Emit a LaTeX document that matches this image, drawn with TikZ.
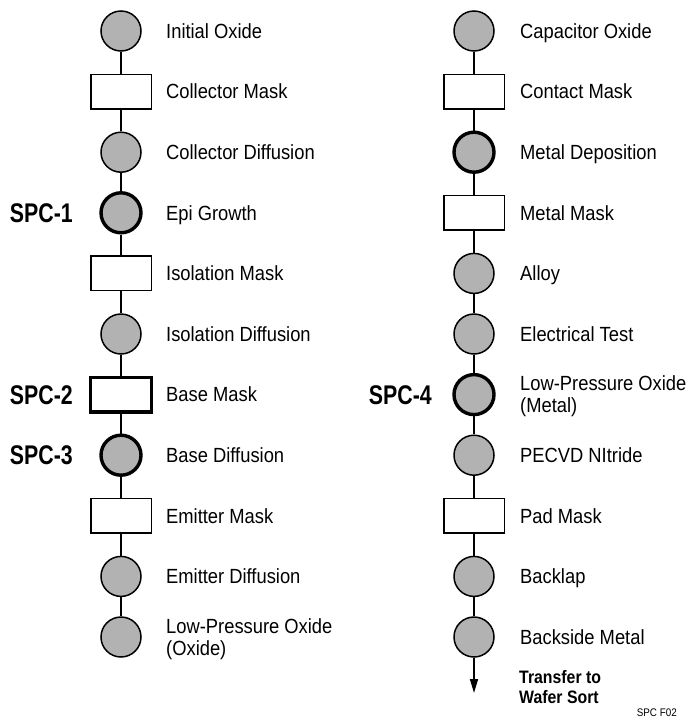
\documentclass[tikz,border=0pt]{standalone}
\usepackage{fontspec}
\setmainfont{Liberation Sans}[FakeStretch=0.895]
\newfontfamily\condfont{Liberation Sans}[FakeStretch=0.79]
\newfontfamily\xferfont{Liberation Sans}[FakeStretch=0.88]
\usetikzlibrary{arrows.meta}
\definecolor{procgray}{gray}{0.70}

\begin{document}
\begin{tikzpicture}[x=1pt,y=-1pt,
  proc/.style={circle, draw, line width=1.5pt, fill=procgray, minimum size=40pt, inner sep=0pt},
  mask/.style={rectangle, draw, line width=1.5pt, fill=white, minimum width=60.5pt, minimum height=34.5pt, inner sep=0pt},
  spcstep/.style={line width=3.4pt},
  lbl/.style={anchor=base west, inner sep=0pt, align=left, font=\fontsize{20.5}{22}\selectfont},
  spclbl/.style={anchor=base east, inner sep=0pt, font=\condfont\bfseries\fontsize{27}{28}\selectfont},
  xferlbl/.style={anchor=base west, inner sep=0pt, align=left, font=\xferfont\bfseries\fontsize{18}{20}\selectfont},
  link/.style={line width=1.6pt}
]
\useasboundingbox (0,0) rectangle (692,726);

% ---- left column: front-end steps ----
\node[proc]          (L0)  at (121, 31.0)  {};
\node[mask]          (L1)  at (121, 91.6)  {};
\node[proc]          (L2)  at (121,152.2)  {};
\node[proc,spcstep]  (L3)  at (121,212.8)  {};
\node[mask]          (L4)  at (121,273.4)  {};
\node[proc]          (L5)  at (121,334.0)  {};
\node[mask,spcstep]  (L6)  at (121,394.6)  {};
\node[proc,spcstep]  (L7)  at (121,455.2)  {};
\node[mask]          (L8)  at (121,515.8)  {};
\node[proc]          (L9)  at (121,576.4)  {};
\node[proc]          (L10) at (121,637.0)  {};

\foreach \a/\b in {L0/L1,L1/L2,L2/L3,L3/L4,L4/L5,L5/L6,L6/L7,L7/L8,L8/L9,L9/L10}
  \draw[link] (\a) -- (\b);

\node[lbl] (tL0)  at (166, 38.3)  {Initial Oxide};
\node[lbl] (tL1)  at (166, 98.9)  {Collector Mask};
\node[lbl] (tL2)  at (166,159.5)  {Collector Diffusion};
\node[lbl] (tL3)  at (166,220.1)  {Epi Growth};
\node[lbl] (tL4)  at (166,280.7)  {Isolation Mask};
\node[lbl] (tL5)  at (166,341.3)  {Isolation Diffusion};
\node[lbl] (tL6)  at (166,401.9)  {Base Mask};
\node[lbl] (tL7)  at (166,462.5)  {Base Diffusion};
\node[lbl] (tL8)  at (166,523.1)  {Emitter Mask};
\node[lbl] (tL9)  at (166,583.7)  {Emitter Diffusion};
\node[lbl] (tL10) at (166,655.0)  {Low-Pressure Oxide\\(Oxide)};

\node[spclbl] (s1) at (73,222.5) {SPC-1};
\node[spclbl] (s2) at (73,404.3) {SPC-2};
\node[spclbl] (s3) at (73,464.9) {SPC-3};

% ---- right column: back-end steps ----
\node[proc]          (R0)  at (474, 31.0)  {};
\node[mask]          (R1)  at (474, 91.6)  {};
\node[proc,spcstep]  (R2)  at (474,152.2)  {};
\node[mask]          (R3)  at (474,212.8)  {};
\node[proc]          (R4)  at (474,273.4)  {};
\node[proc]          (R5)  at (474,334.0)  {};
\node[proc,spcstep]  (R6)  at (474,394.6)  {};
\node[proc]          (R7)  at (474,455.2)  {};
\node[mask]          (R8)  at (474,515.8)  {};
\node[proc]          (R9)  at (474,576.4)  {};
\node[proc]          (R10) at (474,637.0)  {};
\coordinate          (end) at (474,693);

\foreach \a/\b in {R0/R1,R1/R2,R2/R3,R3/R4,R4/R5,R5/R6,R6/R7,R7/R8,R8/R9,R9/R10}
  \draw[link] (\a) -- (\b);
\draw[link,-{Triangle[length=14pt,width=8pt]}] (R10) -- (end);

\node[lbl] (tR0)  at (520, 38.3)  {Capacitor Oxide};
\node[lbl] (tR1)  at (520, 98.9)  {Contact Mask};
\node[lbl] (tR2)  at (520,159.5)  {Metal Deposition};
\node[lbl] (tR3)  at (520,220.1)  {Metal Mask};
\node[lbl] (tR4)  at (520,280.7)  {Alloy};
\node[lbl] (tR5)  at (520,341.3)  {Electrical Test};
\node[lbl] (tR6)  at (520,412.6)  {Low-Pressure Oxide\\(Metal)};
\node[lbl] (tR7)  at (520,462.5)  {PECVD NItride};
\node[lbl] (tR8)  at (520,523.1)  {Pad Mask};
\node[lbl] (tR9)  at (520,583.7)  {Backlap};
\node[lbl] (tR10) at (520,644.3)  {Backside Metal};

\node[spclbl] (s4) at (432,404.3) {SPC-4};

\node[xferlbl] (xfer) at (519,703) {Transfer to\\Wafer Sort};

\node[anchor=base east, inner sep=0pt, font=\fontsize{11}{13}\selectfont] (fig) at (677,716.5) {SPC F02};
\end{tikzpicture}
\end{document}
